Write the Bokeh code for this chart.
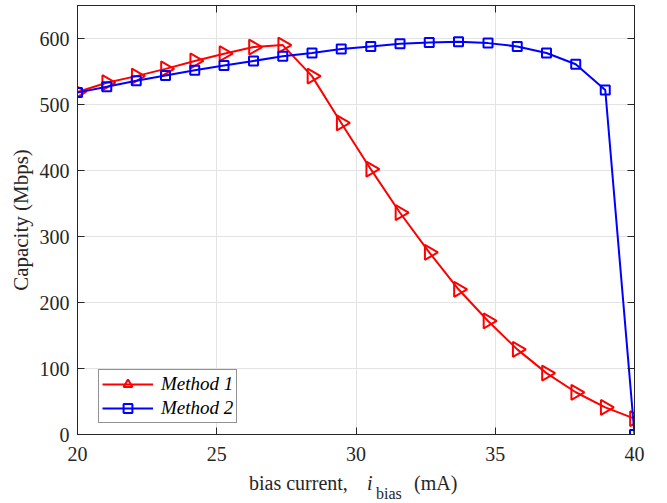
import numpy as np
from bokeh.plotting import figure
from bokeh.layouts import column
from bokeh.models import (Range1d, FixedTicker, LinearAxis, Legend, LegendItem,
                          CustomJSTickFormatter, ColumnDataSource, Div)
from bokeh.embed import file_html
from bokeh.resources import INLINE

# ---------------- data ----------------
bias_current = [20.00, 21.05, 22.11, 23.16, 24.21, 25.26, 26.32, 27.37, 28.42, 29.47,
                30.53, 31.58, 32.63, 33.68, 34.74, 35.79, 36.84, 37.89, 38.95, 40.00]
method1 = [519, 533, 543, 554, 566, 577, 587, 590, 543, 472,
           402, 336, 276, 220, 172, 129, 93, 64, 41, 24]
method2 = [518, 527, 536, 544, 552, 559, 566, 573, 578, 584,
           588, 592, 594, 595, 593, 588, 578, 561, 522, 0]
x_ticks = [20, 25, 30, 35, 40]
y_ticks = [0, 100, 200, 300, 400, 500, 600]
series_names = ["Method 1", "Method 2"]

FONT = "Liberation Serif"
AX = "#262626"
W = 667

p = figure(width=W, height=470, output_backend="svg", toolbar_location=None,
           x_range=Range1d(20, 40), y_range=Range1d(0, 650),
           min_border_left=77, min_border_right=33, min_border_top=5,
           min_border_bottom=36)
p.background_fill_color = "white"
p.border_fill_color = "white"
p.outline_line_color = AX
p.outline_line_width = 1

def style_axis(ax, labels=True):
    ax.axis_line_color = AX
    ax.axis_line_width = 1
    ax.major_tick_line_color = AX
    ax.major_tick_in = 7
    ax.major_tick_out = 0
    ax.minor_tick_line_color = None
    if labels:
        ax.major_label_text_font = FONT
        ax.major_label_text_font_size = "20px"
        ax.major_label_text_color = AX
    else:
        ax.major_label_text_font_size = "0px"
        ax.major_label_standoff = 0
        ax.formatter = CustomJSTickFormatter(code="return ''")

p.xaxis.ticker = FixedTicker(ticks=x_ticks)
p.yaxis.ticker = FixedTicker(ticks=y_ticks)
style_axis(p.xaxis[0])
style_axis(p.yaxis[0])
p.xaxis.major_label_standoff = 12
p.yaxis.major_label_standoff = 8
p.yaxis.axis_label = "Capacity (Mbps)"
p.yaxis.axis_label_text_font = FONT
p.yaxis.axis_label_text_font_size = "21px"
p.yaxis.axis_label_text_font_style = "normal"
p.yaxis.axis_label_text_color = AX
p.yaxis.axis_label_standoff = 4

top_ax = LinearAxis(ticker=FixedTicker(ticks=x_ticks))
right_ax = LinearAxis(ticker=FixedTicker(ticks=y_ticks))
style_axis(top_ax, labels=False)
style_axis(right_ax, labels=False)
p.add_layout(top_ax, "above")
p.add_layout(right_ax, "right")

p.xgrid.ticker = FixedTicker(ticks=x_ticks)
p.ygrid.ticker = FixedTicker(ticks=y_ticks)
p.grid.grid_line_color = "#e3e3e3"
p.grid.grid_line_width = 1

# ---------------- series ----------------
src1 = ColumnDataSource(dict(x=bias_current, y=method1,
                             ang=[-np.pi / 2] * len(bias_current)))
src2 = ColumnDataSource(dict(x=bias_current, y=method2))
l1 = p.line("x", "y", source=src1, line_color="#ff0000", line_width=2)
s1 = p.scatter("x", "y", source=src1, marker="triangle", angle="ang", size=15,
               line_color="#ff0000", line_width=2, fill_color=None)
l2 = p.line("x", "y", source=src2, line_color="#0000ff", line_width=2)
s2 = p.scatter("x", "y", source=src2, marker="square", size=9,
               line_color="#0000ff", line_width=2, fill_color=None)

legend = Legend(items=[LegendItem(label=series_names[0], renderers=[l1, s1]),
                       LegendItem(label=series_names[1], renderers=[l2, s2])],
                location=(21, 11))
legend.label_text_font = FONT
legend.label_text_font_size = "19px"
legend.label_text_font_style = "italic"
legend.label_text_color = "#000000"
legend.border_line_color = "#262626"
legend.border_line_width = 1
legend.background_fill_color = "white"
legend.background_fill_alpha = 1
legend.glyph_width = 51
legend.glyph_height = 22
legend.label_height = 22
legend.label_standoff = 8
legend.spacing = 2
legend.padding = 3
legend.margin = 0
p.add_layout(legend, "center")

# ---------------- x axis label row (with subscript) ----------------
LH = 33
span = "position:absolute;white-space:pre;line-height:1;"
label_html = (
    f'<div style="position:relative;width:{W}px;height:{LH}px;overflow:hidden;'
    f"font-family:'{FONT}';font-size:20px;color:{AX};\">"
    f'<span style="{span}left:249px;top:3px;">bias current,</span>'
    f'<span style="{span}left:367px;top:3px;font-style:italic;">i</span>'
    f'<span style="{span}left:376px;top:16px;font-size:16px;">bias</span>'
    f'<span style="{span}left:414px;top:3px;">(mA)</span>'
    '</div>'
)
xlabel = Div(text=label_html, width=W, height=LH, margin=0,
             styles={"overflow": "hidden"})

layout = column(p, xlabel, spacing=0)
open("out.html", "w").write(file_html(layout, INLINE))
